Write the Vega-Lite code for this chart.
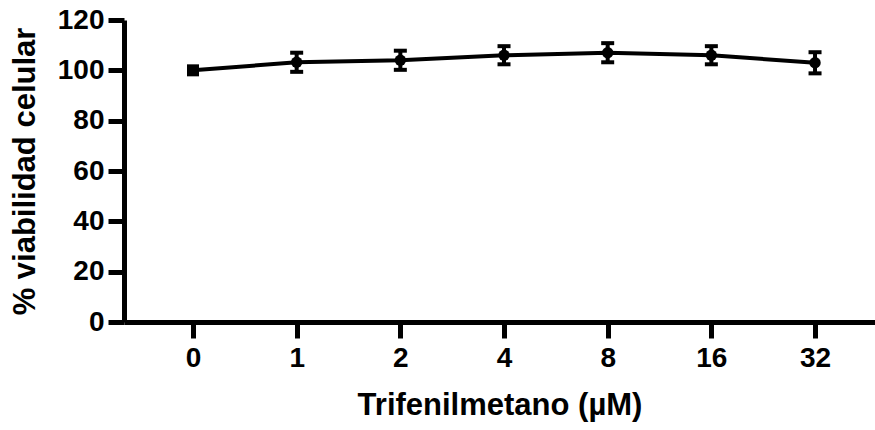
{
  "$schema": "https://vega.github.io/schema/vega-lite/v6.json",
  "width": 751,
  "height": 302,
  "autosize": "none",
  "padding": {"left": 124, "top": 20, "right": 0, "bottom": 108},
  "background": "white",
  "config": {
    "view": {"stroke": null},
    "font": "Liberation Sans",
    "axis": {
      "grid": false,
      "domainColor": "black",
      "domainWidth": 5,
      "tickColor": "black",
      "tickWidth": 5,
      "tickSize": 16,
      "labelColor": "black",
      "labelFont": "Liberation Sans",
      "labelFontSize": 28,
      "labelFontWeight": "bold",
      "titleColor": "black",
      "titleFont": "Liberation Sans",
      "titleFontSize": 31,
      "titleFontWeight": "bold"
    }
  },
  "data": {
    "values": [
      {"dosis": "0", "media": 100, "lo": null, "hi": null, "forma": "cuadrado"},
      {"dosis": "1", "media": 103.2, "lo": 99.4, "hi": 107.0, "forma": "circulo"},
      {"dosis": "2", "media": 104.0, "lo": 100.2, "hi": 107.8, "forma": "circulo"},
      {"dosis": "4", "media": 106.0, "lo": 102.4, "hi": 109.6, "forma": "circulo"},
      {"dosis": "8", "media": 107.0, "lo": 103.2, "hi": 110.8, "forma": "circulo"},
      {"dosis": "16", "media": 106.0, "lo": 102.4, "hi": 109.6, "forma": "circulo"},
      {"dosis": "32", "media": 103.0, "lo": 98.8, "hi": 107.2, "forma": "circulo"}
    ]
  },
  "encoding": {
    "x": {
      "field": "dosis",
      "type": "ordinal",
      "sort": null,
      "scale": {"type": "point", "padding": 0.622, "align": 0.535},
      "axis": {"title": "Trifenilmetano (µM)", "labelAngle": 0, "labelPadding": 6, "titlePadding": 18}
    }
  },
  "layer": [
    {
      "mark": {"type": "line", "color": "black", "strokeWidth": 4},
      "encoding": {
        "y": {
          "field": "media",
          "type": "quantitative",
          "scale": {"domain": [0, 120], "nice": false},
          "axis": {"title": "% viabilidad celular", "values": [0, 20, 40, 60, 80, 100, 120], "labelPadding": 4, "titlePadding": 16}
        }
      }
    },
    {
      "mark": {"type": "rule", "color": "black", "strokeWidth": 4, "opacity": 1},
      "encoding": {
        "y": {"field": "lo", "type": "quantitative"},
        "y2": {"field": "hi"}
      }
    },
    {
      "mark": {"type": "tick", "color": "black", "thickness": 4, "size": 13, "orient": "horizontal", "opacity": 1},
      "encoding": {"y": {"field": "lo", "type": "quantitative"}}
    },
    {
      "mark": {"type": "tick", "color": "black", "thickness": 4, "size": 13, "orient": "horizontal", "opacity": 1},
      "encoding": {"y": {"field": "hi", "type": "quantitative"}}
    },
    {
      "mark": {"type": "point", "filled": true, "color": "black", "opacity": 1},
      "encoding": {
        "y": {"field": "media", "type": "quantitative"},
        "shape": {"field": "forma", "type": "nominal", "scale": {"domain": ["cuadrado", "circulo"], "range": ["square", "circle"]}, "legend": null},
        "size": {"field": "forma", "type": "nominal", "scale": {"domain": ["cuadrado", "circulo"], "range": [144, 130]}, "legend": null}
      }
    }
  ]
}
